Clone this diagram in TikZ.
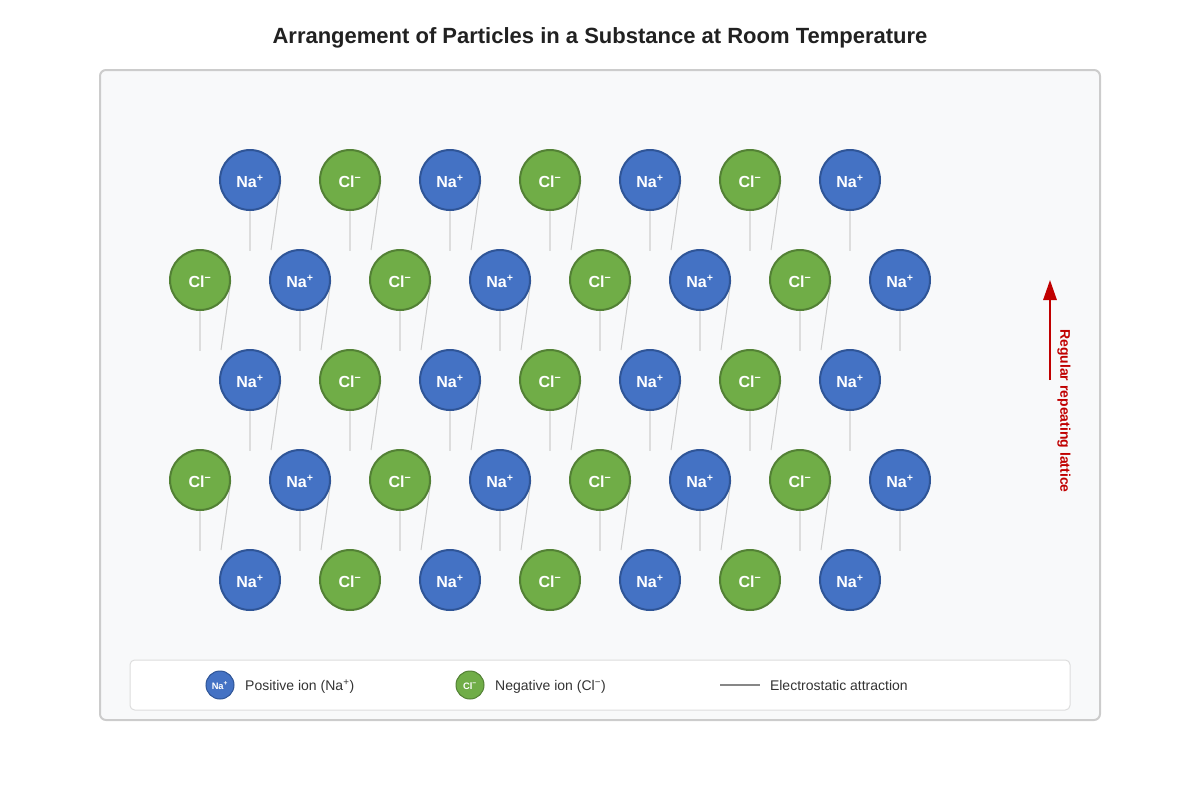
\documentclass[tikz,border=0pt]{standalone}
\usepackage{fontspec}
\setmainfont{Liberation Sans}
\usepackage{tikz}
\usetikzlibrary{arrows.meta}
\usetikzlibrary{positioning}
\definecolor{naBlue}{HTML}{4472C4}
\definecolor{naEdge}{HTML}{2F5597}
\definecolor{clGreen}{HTML}{70AD47}
\definecolor{clEdge}{HTML}{538135}
\definecolor{bondGray}{HTML}{DDDDDD}
\definecolor{tiltGray}{HTML}{CCCCCC}
\definecolor{panelFill}{HTML}{F8F9FA}
\definecolor{panelEdge}{HTML}{CCCCCC}
\definecolor{keyEdge}{HTML}{DDDDDD}
\definecolor{inkGray}{HTML}{333333}
\definecolor{latticeRed}{HTML}{C00000}
\tikzstyle{ion} = [circle, draw, line width=1.5pt, minimum size=45pt, inner sep=0pt, text=white, text height=10.8pt, text depth=0pt, font=\bfseries\fontsize{12}{14}\selectfont]
\tikzstyle{na} = [ion, fill=naBlue, draw=naEdge]
\tikzstyle{cl} = [ion, fill=clGreen, draw=clEdge]
\tikzstyle{keyion} = [minimum size=21pt, line width=0.75pt, text height=6.5pt, font=\bfseries\fontsize{7}{8}\selectfont]
\tikzstyle{keytext} = [text=inkGray, text height=9pt, text depth=0.5pt, font=\fontsize{10.5}{12}\selectfont]
\tikzstyle{bond} = [draw=bondGray, line width=1.5pt]
\tikzstyle{tilt} = [draw=tiltGray, line width=0.75pt]
\pgfdeclarelayer{panel}
\pgfdeclarelayer{bonds}
\pgfsetlayers{panel,bonds,main}

\begin{document}
\begin{tikzpicture}[x=0.75pt, y=-0.75pt]
   \useasboundingbox (0,0) rectangle (1200,800);
   \node [font=\bfseries\fontsize{16.5}{20}\selectfont, text=black!87] (title) at (600,38) {Arrangement of Particles in a Substance at Room Temperature};
   \begin{pgfonlayer}{panel}
     \draw [panelEdge, fill=panelFill, line width=1.5pt, rounded corners=4.5pt] (100,70) rectangle (1100,720);
     \draw [keyEdge, fill=white, line width=0.75pt, rounded corners=3.5pt] (130,660) rectangle (1070,710);
   \end{pgfonlayer}
   % Place ions
   \foreach \r in {1,3,5} \foreach \c in {1,...,7} {
     \ifodd\c \node [na] (n-\r-\c) at (150+100*\c, 80+100*\r) {Na\textsuperscript{+}};
     \else \node [cl] (n-\r-\c) at (150+100*\c, 80+100*\r) {Cl\textsuperscript{−}}; \fi
   }
   \foreach \r in {2,4} \foreach \c in {1,...,8} {
     \ifodd\c \node [cl] (n-\r-\c) at (100+100*\c, 80+100*\r) {Cl\textsuperscript{−}};
     \else \node [na] (n-\r-\c) at (100+100*\c, 80+100*\r) {Na\textsuperscript{+}}; \fi
   }
   % Attractions behind the ions
   \begin{pgfonlayer}{bonds}
     \foreach \r in {1,3,5} \foreach \c [evaluate=\c as \d using int(\c+1)] in {1,...,6}
       \draw [bond] (n-\r-\c) -- (n-\r-\d);
     \foreach \r in {2,4} \foreach \c [evaluate=\c as \d using int(\c+1)] in {1,...,7}
       \draw [bond] (n-\r-\c) -- (n-\r-\d);
     \foreach \r in {1,3} \foreach \c in {1,...,7} \draw [bond] (n-\r-\c.south) -- ++(0,40);
     \foreach \r in {2,4} \foreach \c in {1,...,8} \draw [bond] (n-\r-\c.south) -- ++(0,40);
     \foreach \r in {1,3} \foreach \c in {1,...,6} \draw [tilt] (n-\r-\c.east) -- ++(-10,70);
     \foreach \r in {2,4} \foreach \c in {1,...,7} \draw [tilt] (n-\r-\c.east) -- ++(-10,70);
   \end{pgfonlayer}
   % Lattice arrow
   \coordinate (latticeFoot) at (1050,380);
   \coordinate (latticeHead) at (1050,280);
   \draw [-{Triangle[length=15pt, width=10pt]}, latticeRed, line width=1.5pt] (latticeFoot) -- (latticeHead);
   \node [rotate=-90, text=latticeRed, font=\bfseries\fontsize{10.5}{12}\selectfont] (latticeLabel) at (1064,411) {Regular repeating lattice};
   % Legend
   \node [na, keyion] (keyNa) at (220,685) {Na\textsuperscript{+}};
   \node [keytext, right = 4.5pt of keyNa] (keyNaText) {Positive ion (Na\textsuperscript{+})};
   \node [cl, keyion] (keyCl) at (470,685) {Cl\textsuperscript{−}};
   \node [keytext, right = 4.5pt of keyCl] (keyClText) {Negative ion (Cl\textsuperscript{−})};
   \coordinate (keyLineA) at (720,685);
   \coordinate (keyLineB) at (760,685);
   \draw [black!47, line width=1.5pt] (keyLineA) -- (keyLineB);
   \node [keytext, right = 4pt of keyLineB] (keyLineText) {Electrostatic attraction};
\end{tikzpicture}
\end{document}
